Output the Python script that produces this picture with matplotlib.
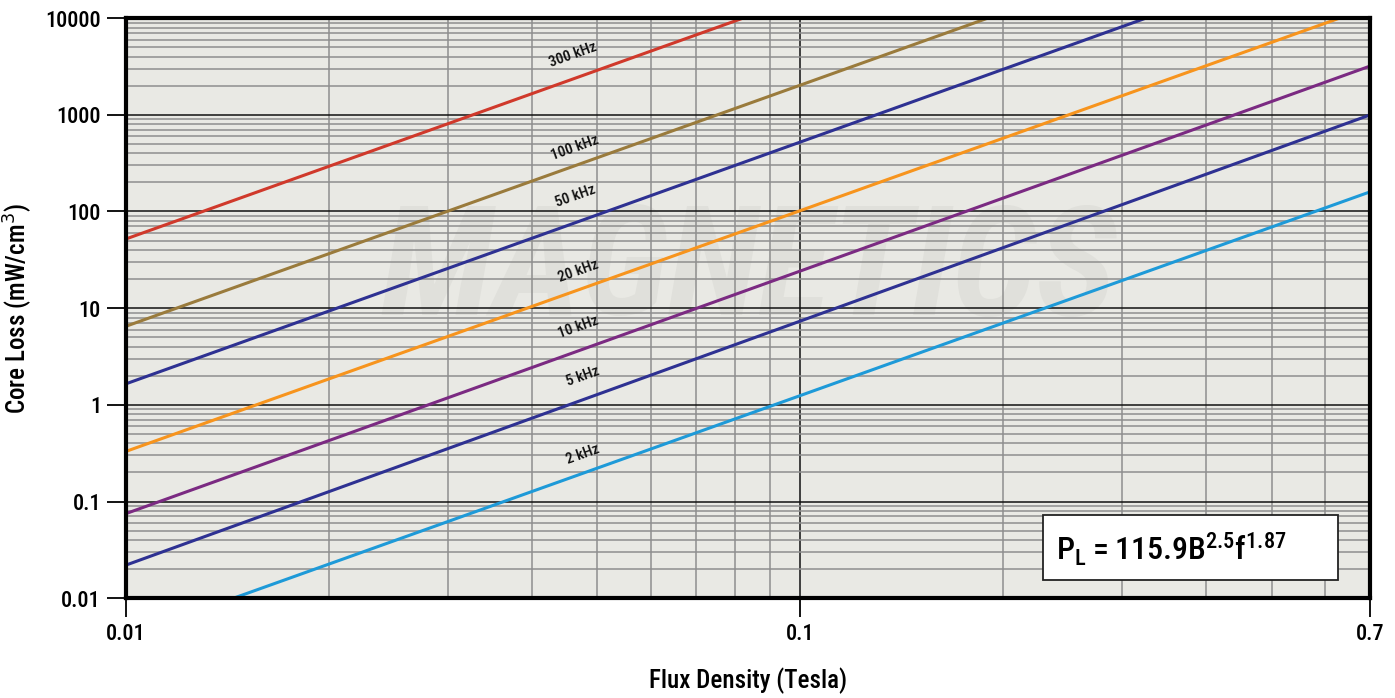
import matplotlib

matplotlib.use("Agg")
import matplotlib.pyplot as plt  # noqa: E402
import numpy as np  # noqa: E402
from matplotlib import font_manager  # noqa: E402
from matplotlib.patches import Rectangle  # noqa: E402
from matplotlib.ticker import FixedLocator, NullFormatter  # noqa: E402

names = {f.name for f in font_manager.fontManager.ttflist}
narrow = [n for n in ("DejaVu Sans Condensed", "Liberation Sans Narrow", "Roboto Condensed",
                      "Open Sans Condensed") if n in names]
plt.rcParams["font.family"] = narrow + ["DejaVu Sans"]
plt.rcParams["font.weight"] = "medium"
plt.rcParams["axes.labelweight"] = "medium"

# flux density range (Tesla) and read-off core loss at the ends of each line
b_range = [0.01, 0.7]
freq_labels = ["300 kHz", "100 kHz", "50 kHz", "20 kHz", "10 kHz", "5 kHz", "2 kHz"]
loss_at_start = [52, 6.5, 1.65, 0.33, 0.075, 0.022, 0.004]
loss_at_end = [2.1e6, 2.6e5, 6.8e4, 1.3e4, 3200, 1000, 160]
line_colors = ["#d0392b", "#9a7b3c", "#2e3192", "#f7941d", "#7b2a82", "#2e3192", "#1e9ad8"]

# label anchor points (B, P)
label_b = [0.046, 0.0464, 0.0464, 0.0469, 0.0469, 0.0475, 0.0475]
label_p = [4150, 457, 143, 24, 6.4, 1.95, 0.31]

x_major = [0.01, 0.1, 0.7]
x_major_labels = ["0.01", "0.1", "0.7"]
y_major = [0.01, 0.1, 1, 10, 100, 1000, 10000]
y_major_labels = ["0.01", "0.1", "1", "10", "100", "1000", "10000"]

fig = plt.figure(figsize=(13.95, 6.98), dpi=100)
ax = fig.add_axes([0.0903, 0.143, 0.892, 0.831])
ax.set_facecolor("#e9e9e4")
ax.set_xscale("log")
ax.set_yscale("log")
ax.set_xlim(0.01, 0.7)
ax.set_ylim(0.01, 10000)

# faint watermark
ax.text(0.5, 0.56, "MAGNETICS", transform=ax.transAxes, ha="center", va="center",
        fontsize=110, fontstyle="italic", fontweight="bold", color="#e0e0db", zorder=0.1)

for lo, hi, c in zip(loss_at_start, loss_at_end, line_colors):
    ax.plot(b_range, [lo, hi], color=c, lw=2.2, zorder=3, solid_capstyle="butt")

fig.canvas.draw()
for txt, bx, py in zip(freq_labels, label_b, label_p):
    p1 = ax.transData.transform((b_range[0], 1.0))
    p2 = ax.transData.transform((b_range[1], 1.0 * (b_range[1] / b_range[0]) ** 2.5))
    ang = np.degrees(np.arctan2(p2[1] - p1[1], p2[0] - p1[0]))
    ax.text(bx, py, txt, rotation=ang, rotation_mode="anchor", ha="center", va="center",
            fontsize=11, color="#111111", zorder=4)

ax.xaxis.set_major_locator(FixedLocator(x_major))
ax.set_xticklabels(x_major_labels)
ax.yaxis.set_major_locator(FixedLocator(y_major))
ax.set_yticklabels(y_major_labels)
x_minor = [k * 10.0 ** e for e in (-2, -1) for k in range(2, 10) if k * 10.0 ** e < 0.7]
y_minor = [k * 10.0 ** e for e in range(-2, 4) for k in range(2, 10)]
ax.xaxis.set_minor_locator(FixedLocator(x_minor))
ax.yaxis.set_minor_locator(FixedLocator(y_minor))
ax.xaxis.set_minor_formatter(NullFormatter())
ax.yaxis.set_minor_formatter(NullFormatter())

ax.grid(which="major", color="#111111", lw=1.1, zorder=1)
ax.grid(which="minor", color="#8e8e8e", lw=1.1, zorder=1)
ax.set_axisbelow(True)

ax.tick_params(which="major", direction="out", length=14, width=1.3, labelsize=16, pad=4)
ax.tick_params(which="minor", length=0)
for s in ax.spines.values():
    s.set_linewidth(3)
    s.set_zorder(5)

ax.set_xlabel("Flux Density (Tesla)", fontsize=18, labelpad=16)
ax.set_ylabel("Core Loss (mW/cm$^3$)", fontsize=18, labelpad=8)

ax.add_patch(Rectangle((0.737, 0.031), 0.237, 0.112, transform=ax.transAxes,
                       facecolor="white", edgecolor="#222222", lw=1.3, zorder=6))
ax.text(0.84, 0.084, r"$\mathregular{P_L = 115.9B^{2.5}f^{1.87}}$", transform=ax.transAxes,
        ha="center", va="center", fontsize=23, zorder=7)

fig.savefig("out.png", dpi=100, facecolor="white")
